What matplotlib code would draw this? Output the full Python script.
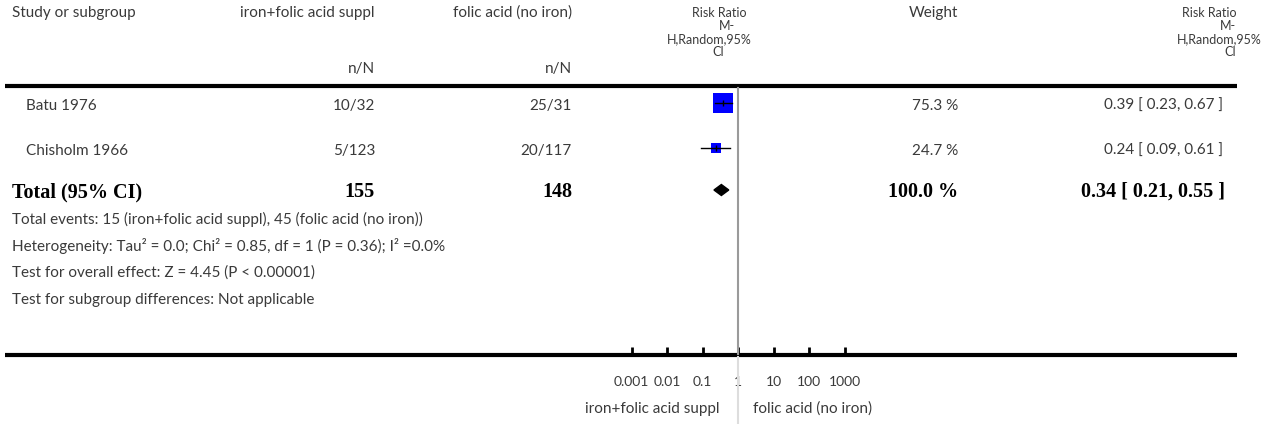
import numpy as np
import matplotlib
matplotlib.use("Agg")
import matplotlib.pyplot as plt

# study rows
studies = ["Batu 1976", "Chisholm 1966"]
treat_nN = ["10/32", "5/123"]
ctrl_nN = ["25/31", "20/117"]
rr = [0.39, 0.24]
ci_lo = [0.23, 0.09]
ci_hi = [0.67, 0.61]
weights = [75.3, 24.7]

# pooled
total_treat = 155
total_ctrl = 148
rr_total = 0.34
ci_total = (0.21, 0.55)

footnotes = [
    "Total events: 15 (iron+folic acid suppl), 45 (folic acid (no iron))",
    "Heterogeneity: Tau\u00b2 = 0.0; Chi\u00b2 = 0.85, df = 1 (P = 0.36); I\u00b2 =0.0%",
    "Test for overall effect: Z = 4.45 (P < 0.00001)",
    "Test for subgroup differences: Not applicable",
]
rr_header = ["Risk Ratio", "M-", "H,Random,95%", "CI"]
tick_vals = [0.001, 0.01, 0.1, 1, 10, 100, 1000]
tick_labels = ["0.001", "0.01", "0.1", "1", "10", "100", "1000"]
left_label = "iron+folic acid suppl"
right_label = "folic acid (no iron)"

W, H = 1268, 424
fig = plt.figure(figsize=(W / 100, H / 100), dpi=100)
ax = fig.add_axes([0, 0, 1, 1])
ax.set_xlim(0, W)
ax.set_ylim(H, 0)
ax.axis("off")

sans = ["Lato", "DejaVu Sans"]
serif = ["Liberation Serif", "DejaVu Serif"]
tc = "#3a3a3a"
fs = 11
kw = dict(family=sans, fontsize=fs, color=tc, va="center")
hkw = dict(family=sans, fontsize=9, color=tc, va="center")

# header
ax.text(12, 13, "Study or subgroup", ha="left", **kw)
ax.text(375, 13, "iron+folic acid suppl", ha="right", **kw)
ax.text(572, 13, "folic acid (no iron)", ha="right", **kw)
ax.text(375, 69, "n/N", ha="right", **kw)
ax.text(572, 69, "n/N", ha="right", **kw)
ax.text(958, 13, "Weight", ha="right", **kw)
left_edges = [746, 735, 752, 724]
right_edges = [1236, 1236, 1262, 1236]
for i, s in enumerate(rr_header):
    ax.text(left_edges[i], 13 + 13 * i, s, ha="right", **hkw)
    ax.text(right_edges[i], 13 + 13 * i, s, ha="right", **hkw)

ax.plot([5, 1237], [86, 86], color="black", lw=3, solid_capstyle="butt")
ax.plot([5, 1237], [355, 355], color="black", lw=3, solid_capstyle="butt")

row_y = [106, 151]
for i in range(len(studies)):
    y = row_y[i]
    ax.text(26, y, studies[i], ha="left", **kw)
    ax.text(375, y, treat_nN[i], ha="right", **kw)
    ax.text(572, y, ctrl_nN[i], ha="right", **kw)
    ax.text(958, y, f"{weights[i]:.1f} %", ha="right", **kw)
    ax.text(1223, y, f"{rr[i]:.2f} [ {ci_lo[i]:.2f}, {ci_hi[i]:.2f} ]", ha="right", **kw)

yt = 192
bkw = dict(family=serif, fontsize=14.5, color="black", va="center", weight="bold")
ax.text(12, yt, "Total (95% CI)", ha="left", **bkw)
ax.text(375, yt, str(total_treat), ha="right", **bkw)
ax.text(572, yt, str(total_ctrl), ha="right", **bkw)
ax.text(958, yt, "100.0 %", ha="right", **bkw)
ax.text(1225, yt, f"{rr_total:.2f} [ {ci_total[0]:.2f}, {ci_total[1]:.2f} ]", ha="right", **bkw)

for i, s in enumerate(footnotes):
    ax.text(12, 219 + 27 * i, s, ha="left", **kw)

# forest panel: log scale, 1 at x=738, ~35.5 px per decade
x0 = 738 - 4 * 35.5
x1 = 738 + 4 * 35.5
fax = fig.add_axes([x0 / W, 0, (x1 - x0) / W, 1])
fax.set_xscale("log")
fax.set_xlim(1e-4, 1e4)
fax.set_ylim(H, 0)
fax.patch.set_alpha(0)
for sp in fax.spines.values():
    sp.set_visible(False)
fax.set_yticks([])

fax.plot([1, 1], [88, 354], color="#9a9a9a", lw=1.5)
fax.plot([1, 1], [357, H], color="#dddddd", lw=1.5)

sizes = [13.7, 6.5]
for i in range(len(studies)):
    y = row_y[i] - 3.5 + 0.5 * i
    fax.plot([ci_lo[i], ci_hi[i]], [y, y], color="black", lw=1, zorder=3)
    fax.plot(rr[i], y, marker="s", ms=sizes[i], color="#0000ff", mew=0, zorder=2)
    fax.plot(rr[i], y, marker="|", ms=5, color="black", mew=1, zorder=4)
dy = 5.5
yd = 190
fax.fill([ci_total[0], rr_total, ci_total[1], rr_total],
         [yd, yd - dy, yd, yd + dy], color="black", zorder=3)

fax.xaxis.set_ticks_position("bottom")
fax.spines["bottom"].set_position(("data", 355))
fax.set_xticks(tick_vals)
fax.set_xticklabels(tick_labels)
fax.minorticks_off()
fax.tick_params(axis="x", direction="in", length=6, width=2, pad=15,
                labelsize=10, labelcolor=tc)
for lab in fax.get_xticklabels():
    lab.set_family(sans)

fax.text(0.31, 409, left_label, ha="right", va="center", family=sans,
         fontsize=11, color=tc)
fax.text(2.6, 409, right_label, ha="left", va="center", family=sans,
         fontsize=11, color=tc)

fig.savefig("out.png", dpi=100)
